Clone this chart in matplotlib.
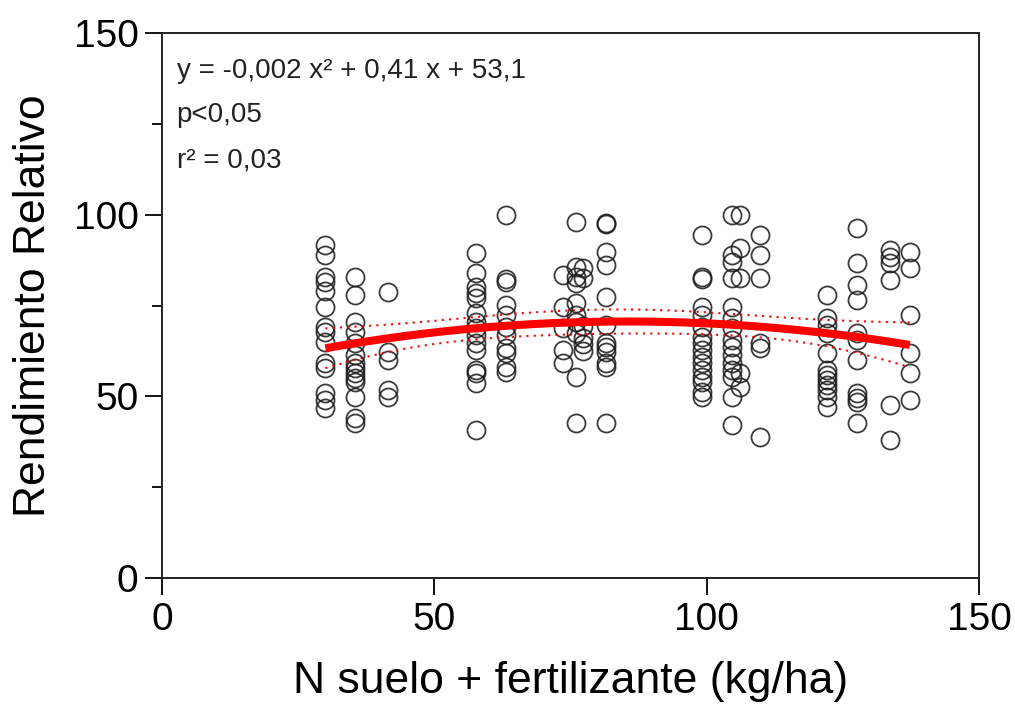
import numpy as np
import matplotlib
matplotlib.use('Agg')
import matplotlib.pyplot as plt
from matplotlib.ticker import MultipleLocator

plt.rcParams['font.family'] = ['Liberation Sans', 'DejaVu Sans']

# N available (soil + fertiliser) per site group, and relative yield of each plot
n_groups = [30.0, 35.4, 41.5, 57.6, 63.2, 73.7, 76.0, 77.3, 81.5,
            99.1, 104.6, 106.2, 109.8, 122.1, 127.6, 133.7, 137.3]
rr_groups = [
    [91.7, 88.9, 82.9, 81.5, 79.0, 74.6, 69.1, 67.7, 65.0, 59.2, 57.8, 50.9, 49.0, 46.8],
    [82.9, 77.9, 70.5, 67.7, 64.7, 61.4, 59.2, 57.8, 56.5, 55.0, 53.9, 49.8, 44.0, 42.7],
    [78.7, 62.2, 60.0, 51.7, 49.8],
    [89.4, 84.0, 80.2, 78.4, 77.0, 72.9, 70.5, 68.8, 66.9, 64.7, 62.8, 57.2, 56.4, 53.7, 40.7],
    [99.9, 82.3, 81.5, 75.1, 72.4, 69.1, 66.9, 63.3, 61.9, 58.1, 56.7],
    [83.4, 74.6, 68.8, 62.8, 59.2],
    [98.0, 85.6, 82.9, 81.2, 75.7, 72.5, 70.5, 67.5, 55.3, 42.7],
    [85.3, 82.6, 69.5, 66.0, 64.5, 62.5],
    [97.8, 97.4, 89.7, 86.2, 77.4, 69.6, 64.7, 63.6, 62.2, 59.2, 58.1, 42.7],
    [94.4, 82.8, 82.4, 74.6, 72.4, 69.1, 66.3, 64.7, 62.8, 60.8, 59.2, 57.3, 55.3, 53.9, 51.2, 49.8],
    [99.9, 88.9, 87.0, 82.6, 74.6, 71.6, 68.8, 65.5, 63.6, 61.4, 59.2, 57.3, 55.3, 49.8, 42.1],
    [99.9, 90.8, 82.6, 56.4, 52.6],
    [94.4, 88.9, 82.6, 64.7, 63.3, 38.8],
    [77.9, 71.6, 69.6, 67.4, 61.9, 57.3, 55.9, 54.5, 53.1, 51.7, 49.8, 47.1],
    [96.3, 86.7, 80.6, 76.5, 67.4, 65.5, 60.0, 50.9, 49.5, 48.4, 42.7],
    [90.3, 88.4, 86.7, 82.0, 47.6, 38.0],
    [89.7, 85.3, 72.4, 61.9, 56.4, 49.0],
]

# quadratic fit coefficients (a x^2 + b x + c)
coef_a, coef_b, coef_c = -0.0024, 0.41, 53.1
p_text = "p<0,05"
r2_text = "r\u00b2 = 0,03"

x = np.concatenate([[g] * len(r) for g, r in zip(n_groups, rr_groups)])
y = np.concatenate(rr_groups)

xx = np.linspace(min(n_groups), max(n_groups), 200)
yy = coef_a * xx**2 + coef_b * xx + coef_c

# 95% confidence band of the mean response
X = np.column_stack([np.ones_like(x), x, x**2])
resid = y - (coef_a * x**2 + coef_b * x + coef_c)
s = np.sqrt(np.sum(resid**2) / (len(y) - 3))
cov = np.linalg.inv(X.T @ X)
X0 = np.column_stack([np.ones_like(xx), xx, xx**2])
half = 1.976 * s * np.sqrt(np.einsum('ij,jk,ik->i', X0, cov, X0))

fig = plt.figure(figsize=(10.15, 7.04), dpi=100)
ax = fig.add_axes([0.1596, 0.179, 0.8049, 0.774])

ax.plot(x, y, 'o', mfc='none', mec='#1a1a1a', ms=13, mew=1.3, alpha=0.85)
ax.plot(xx, yy, color='#ff0000', lw=5.8, solid_capstyle='butt')
ax.plot(xx, yy + half, color='#ff0000', lw=1.5, ls=(0, (1, 2.5)))
ax.plot(xx, yy - half, color='#ff0000', lw=1.5, ls=(0, (1, 2.5)))

ax.set_xlim(0, 150)
ax.set_ylim(0, 150)
ax.xaxis.set_major_locator(MultipleLocator(50))
ax.yaxis.set_major_locator(MultipleLocator(50))
ax.yaxis.set_minor_locator(MultipleLocator(25))
ax.tick_params(which='major', direction='out', length=12, width=1.3, labelsize=28, pad=5,
               top=False, right=False)
ax.tick_params(which='minor', direction='out', length=7, width=1.3, top=False, right=False)
for sp in ax.spines.values():
    sp.set_linewidth(1.4)
    sp.set_color('#222222')

ax.set_xlabel("N suelo + fertilizante (kg/ha)", fontsize=32, labelpad=17)
ax.set_ylabel("Rendimiento Relativo", fontsize=32, labelpad=14)

eq = "y = {:.3f} x\u00b2 + {:.2f} x + {:.1f}".format(coef_a, coef_b, coef_c).replace('.', ',')
for txt, ypos in [(eq, 0.93), (p_text, 0.85), (r2_text, 0.767)]:
    ax.text(0.018, ypos, txt, transform=ax.transAxes, fontsize=20, va='center',
            color='#222222')

fig.savefig('out.png', dpi=100)
